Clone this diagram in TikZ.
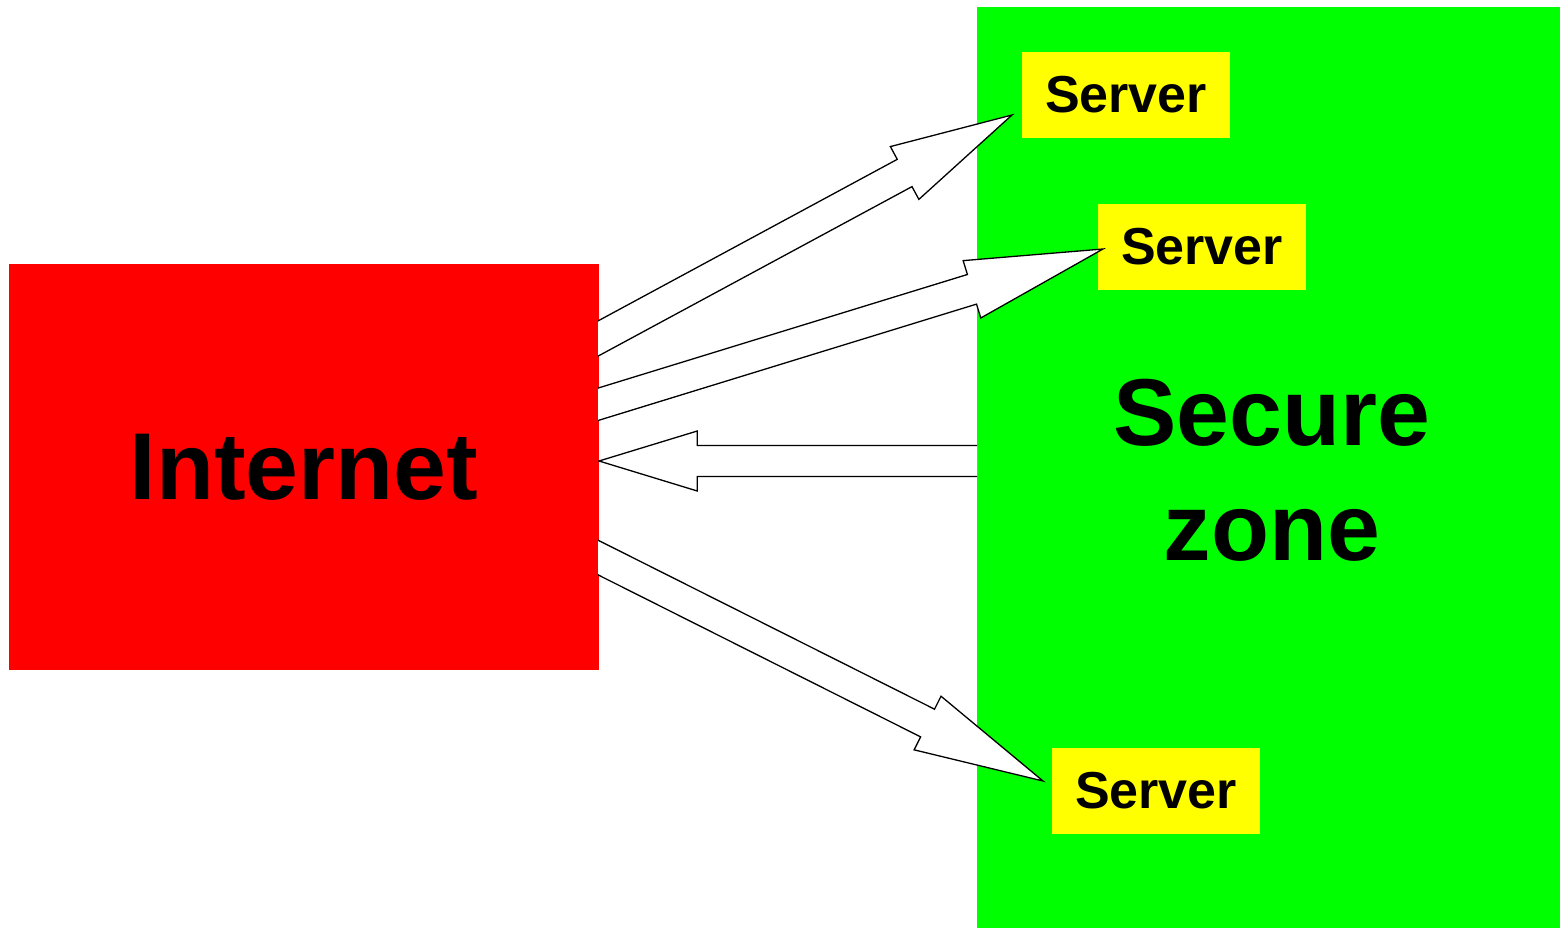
\documentclass[tikz,border=0pt]{standalone}
\usepackage{fontspec}
\setmainfont{Liberation Sans}
\usetikzlibrary{calc,positioning}
\definecolor{netred}{HTML}{FF0000}
\definecolor{zonegreen}{HTML}{00FF00}
\definecolor{srvyellow}{HTML}{FFFF00}

% block arrow from tail #1 to tip #2, tail pushed back by #3
\newcommand{\blockarrow}[3]{%
  \coordinate (headbase) at ($(#1)!0.74!(#2)$);
  \coordinate (tailend) at ($(#1)!-#3!(#2)$);
  \filldraw[barrow] ($(tailend)!15.5pt!90:(#2)$) -- ($(headbase)!15.5pt!90:(#2)$) -- ($(headbase)!30pt!90:(#2)$) -- (#2)
    -- ($(headbase)!30pt!-90:(#2)$) -- ($(headbase)!15.5pt!-90:(#2)$) -- ($(tailend)!15.5pt!-90:(#2)$);
}

\begin{document}
\begin{tikzpicture}[x=1pt,y=-1pt,font=\bfseries,
  area/.style={inner sep=0pt,outer sep=0pt},
  big/.style={font=\bfseries\fontsize{95}{115}\selectfont},
  srv/.style={fill=srvyellow,inner sep=0pt,outer sep=0pt,minimum width=208pt,minimum height=86pt,font=\bfseries\fontsize{52}{60}\selectfont},
  barrow/.style={draw=black,fill=white,line width=1.3pt,line join=miter}]
\useasboundingbox (0,0) rectangle (1560,928);
\node[area,fill=zonegreen,minimum width=583pt,minimum height=921pt] (zone) at (1268.5,467.5) {};
\node[area,fill=netred,minimum width=590pt,minimum height=406pt,big] (inet) at (304,467) {Internet};
\node[big,align=center] (zonelabel) at (1272,470) {Secure\\zone};
\node[srv] (srvA) at (1126,95) {Server};
\node[srv] (srvB) at (1202,247) {Server};
\node[srv] (srvC) at (1156,791) {Server};

\coordinate (tailA) at ([shift={(0,-129)}]inet.east);
\coordinate (tipA) at ([shift={(-10,20)}]srvA.west);
\coordinate (tailB) at ([shift={(0,-63)}]inet.east);
\coordinate (tipB) at ([shift={(5,2)}]srvB.west);
\coordinate (tailN) at ([shift={(0,-6.5)}]zone.west);
\coordinate (tipN) at ([shift={(0,-6)}]inet.east);
\coordinate (tailC) at ([shift={(0,91)}]inet.east);
\coordinate (tipC) at ([shift={(-9,-10)}]srvC.west);
\begin{scope}
\clip ([xshift=-1pt]inet.north east |- zone.north) rectangle (zone.south east);
\blockarrow{tailA}{tipA}{40pt}
\blockarrow{tailB}{tipB}{40pt}
\blockarrow{tailN}{tipN}{0pt}
\blockarrow{tailC}{tipC}{40pt}
\end{scope}
\end{tikzpicture}
\end{document}
